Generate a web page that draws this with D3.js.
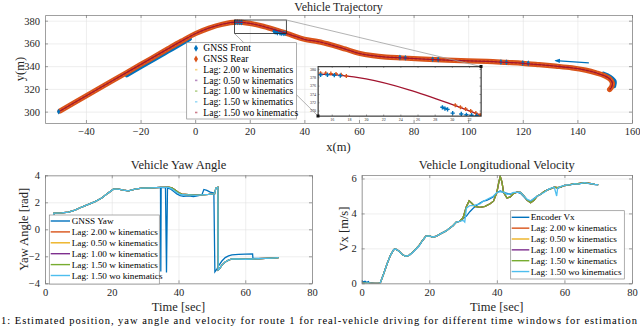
<!DOCTYPE html>
<html>
<head>
<meta charset="utf-8">
<script src="https://cdn.jsdelivr.net/npm/d3@7"></script>
<style>
body { margin: 0; background: #fff; }
svg { display: block; font-family: 'Liberation Serif', serif; }
</style>
</head>
<body>
<svg id="chart" width="640" height="326"></svg>
<script>
// ---- data ----
const lagNames = ["Lag: 2.00 w kinematics", "Lag: 0.50 w kinematics", "Lag: 1.00 w kinematics",
                  "Lag: 1.50 w kinematics", "Lag: 1.50 wo kinematics"];
const lagColors = ["#D95319", "#EDB120", "#7E2F8E", "#77AC30", "#4DBEEE"];
const trajLagColors = ["#EDB120", "#7E2F8E", "#77AC30", "#4DBEEE", "#A2142F"];

// trajectory [x, y] in m
const trackRear = [[-49.5,300.6],[-40,313.8],[-30,327.6],[-20,341.4],[-10,355.2],[-5,362],[0,368.5],[5,373.4],
  [10,376.9],[15,378.7],[20,377.6],[25,375],[30,371.5],[35,367.6],[40,363.6],[45,361.6],[50,358.6],[55,355],
  [60,351.3],[65,349.2],[70,348],[76,347.2],[88,345.7],[100,344.6],[107,344.2],[114,343.3],[120,342.5],
  [126,341.3],[132,340],[138,338.5],[143,336.5],[147,334],[150,331.5],[152,328.5],[152.8,325.3],[152.5,321.5],[151.8,319.5]];
const trackEst = trackRear;
const frontSegA = [[-25,332.2],[-20,339.2],[-15,346.1],[-10,353],[-5,359.9],[-2,364]];
const frontSegB = [[149.5,333.2],[152,330.4],[153.6,326.5],[153.4,322.5]];
const frontPts = [[-50,300],[75,347.6],[77,347.3],[87,346],[89,345.8],[112,343.6],[114,343.4],[120,342.8],[122,342.6],
  [14.7,378.6],[15.5,378.6],[16.3,378.5],[17.0,378.4],[28.9,370.8],[29.2,370.5],[29.5,370.3],[30.1,369.4],
  [31.1,369.2],[31.7,369.0],[32.3,368.9],[32.9,368.8]];
const rearPts = [[14.7,379.0],[15.3,379.0],[15.9,378.9],[16.5,378.8],[17.1,378.6],[17.7,378.3],
  [30.4,371.3],[31.0,370.8],[31.6,370.4],[32.2,369.9],[32.8,369.4],[33.3,369.0]];
const arrowPts = [[144.2,342.9],[132,344.9]];
const zoomX = [14.4, 33.4];
const zoomY = [368.7, 380.6];

// yaw [t, rad]
const yawGnss = [[2.5,0.95],[2.7,1.2],[5,1.22],[7,1.27],[9,1.42],[11,1.65],[13,1.85],[15,2.05],[17,2.32],[19,2.7],
  [20.5,2.97],[22,2.98],[23.5,2.9],[25,2.85],[27,2.98],[29,3.05],[32,3.07],[34.6,3.1],[34.7,-3.12],[34.8,3.1],
  [36.1,3.08],[36.4,-3.2],[36.7,3.05],[37.5,3.0],[38.5,2.82],[39.5,2.62],[40.5,2.5],[41.5,2.45],[43,2.48],
  [44.5,2.42],[46,2.5],[47,2.55],[47.6,2.95],[48.5,2.88],[49.5,2.75],[50.6,2.68],[50.9,-3.15],[51.5,-2.95],
  [52,-2.7],[53,-2.35],[54,-2.1],[55,-1.97],[56,-1.9],[58,-1.86],[60,-1.84],[62.2,-1.82],[62.3,-2.15],
  [64,-2.16],[66,-2.15],[68,-2.12],[70,-2.1]];
const yawKin = [[2.5,1.0],[2.7,1.2],[5,1.22],[7,1.27],[9,1.42],[11,1.65],[13,1.85],[15,2.05],[17,2.32],[19,2.7],
  [20.5,2.97],[22,2.98],[23.5,2.9],[25,2.85],[27,2.98],[29,3.05],[32,3.07],[34.6,3.1],[37,3.13],[38,3.07],
  [39,2.9],[40,2.72],[41,2.6],[43,2.56],[45,2.53],[47,2.55],[49,2.58],[50.8,2.62],[51.2,3.05],[51.8,3.12],
  [51.9,-3.0],[52.3,-2.92],[53,-2.65],[54,-2.42],[55,-2.28],[56,-2.2],[58,-2.2],[60,-2.22],[62,-2.2],
  [64,-2.18],[66,-2.16],[68,-2.13],[70,-2.1]];
const yawEst = [[2.5,1.0],[2.7,1.2],[5,1.22],[7,1.27],[9,1.42],[11,1.65],[13,1.85],[15,2.05],[17,2.32],[19,2.7],
  [20.5,2.97],[22,2.98],[23.5,2.9],[25,2.85],[27,2.98],[29,3.05],[32,3.07],[34.6,3.1],[37,3.1],[38,3.0],
  [39,2.82],[40,2.65],[41,2.56],[43,2.55],[45,2.52],[47,2.55],[49,2.58],[50.8,2.62],[51.2,3.05],[51.8,3.12],
  [51.9,-3.0],[52.3,-2.92],[53,-2.65],[54,-2.42],[55,-2.28],[56,-2.2],[58,-2.2],[60,-2.22],[62,-2.2],
  [64,-2.18],[66,-2.16],[68,-2.13],[70,-2.1]];

// longitudinal velocity [t, m/s]
const velEnc = [[0,0.15],[0.5,0.08],[1,0.12],[1.5,0.05],[2,0.1],[2.3,0.0],[3,0.02],[4,0.0],[5,0.0],[5.5,0.02],
  [6.5,0.55],[7.5,1.1],[8.5,1.6],[9.5,1.93],[10,1.96],[11,1.85],[12,1.65],[13,1.55],[14,1.6],[15,1.75],
  [16,1.95],[17,2.15],[18,2.45],[19,2.7],[20,2.72],[21,2.65],[22,2.68],[23,2.8],[24,2.9],[25,3.0],[26,3.15],
  [27,3.3],[28,3.5],[29,3.55],[30,3.7],[31,3.85],[32,4.1],[33,4.3],[34,4.45],[35,4.6],[36,4.7],[37,4.75],
  [38,4.85],[39,4.95],[40,5.2],[41,5.28],[42,5.2],[43,5.15],[44,5.1],[45,5.18],[46,5.22],[47,5.15],[48,4.95],
  [49,4.75],[50,4.7],[51,4.85],[52,5.0],[53,5.1],[54,5.25],[55,5.35],[56,5.42],[57,5.5],[58,5.45],[59,5.5],
  [60,5.6],[61,5.62],[62,5.65],[63,5.7],[64,5.68],[65,5.72],[66,5.75],[67,5.72],[68,5.7],[69,5.65],[70,5.65]];
const velKin = [[0.3,0.02],[2,0.02],[3,0.0],[5,0.0],[5.5,0.02],
  [6.5,0.55],[7.5,1.1],[8.5,1.6],[9.5,1.93],[10,1.96],[11,1.85],[12,1.65],[13,1.55],[14,1.6],[15,1.77],
  [16,1.97],[17,2.17],[18,2.45],[19,2.7],[20,2.72],[21,2.65],[22,2.68],[23,2.8],[24,2.9],[25,3.0],[26,3.15],
  [27,3.3],[28,3.5],[29,3.55],[30,3.75],[31,4.4],[31.8,4.72],[32.5,4.6],[33.5,4.4],[35,4.35],[36.5,4.4],
  [38,4.55],[39,4.7],[40,5.2],[40.6,5.8],[41,6.12],[41.5,5.8],[42,5.2],[43,4.88],[44,4.95],[45,5.15],[46,5.22],
  [47,5.2],[48,5.0],[49,4.75],[50,4.62],[51,4.75],[52,5.0],[53,5.1],[54,5.25],[55,5.35],[56,5.42],[57,5.5],
  [58,5.47],[59,5.52],[60,5.6],[61,5.62],[62,5.66],[63,5.7],[64,5.7],[65,5.73],[66,5.75],[67,5.73],[68,5.7],
  [69,5.66],[70,5.65]];
const velEst = [[0.3,0.0],[2,0.02],[3,0.0],[5,0.0],[5.5,0.02],
  [6.5,0.55],[7.5,1.1],[8.5,1.6],[9.5,1.93],[10,1.96],[11,1.85],[12,1.65],[13,1.55],[14,1.6],[15,1.75],
  [16,1.95],[17,2.15],[18,2.45],[19,2.7],[20,2.72],[21,2.65],[22,2.68],[23,2.8],[24,2.9],[25,3.0],[26,3.15],
  [27,3.3],[28,3.5],[29,3.55],[30,3.6],[30.5,3.5],[31,4.3],[32,4.45],[33,4.45],[34,4.5],[35,4.55],[36,4.7],
  [37,4.8],[38,4.9],[39,5.0],[40,5.2],[41,5.25],[42,5.22],[43,5.1],[44,5.12],[45,5.2],[46,5.2],[47,5.2],
  [48,5.0],[49,4.8],[50,4.72],[51,4.85],[52,5.0],[53,5.1],[54,5.2],[55,5.35],[56,5.45],[57,5.5],[57.7,5.0],
  [58,5.45],[59,5.55],[60,5.6],[61,5.63],[62,5.65],[63,5.7],[64,5.68],[65,5.72],[66,5.76],[67,5.72],[68,5.7],
  [69,5.66],[70,5.64]];

const trajXTicks = d3.range(-40, 161, 20);
const trajYTicks = d3.range(300, 381, 20);
const insetXTicks = d3.range(16, 33, 2);
const insetYTicks = d3.range(370, 381, 2);
const timeTicks = d3.range(0, 81, 20);
const yawTicks = d3.range(-4, 5, 2);
const velTicks = d3.range(0, 7, 2);

// ---- drawing ----
const svg = d3.select("#chart");
const FONT = "'Liberation Serif', 'DejaVu Serif', serif";
const TXT = "#262626";
const fmt = d3.format("d");
let clipN = 0;

function axesFrame(b, xd, yd, xt, yt, grid = true) {
    const x = d3.scaleLinear().domain(xd).range([b.l, b.r]);
    const y = d3.scaleLinear().domain(yd).range([b.b, b.t]);
    const w = b.r - b.l, h = b.b - b.t;
    const g = svg.append("g");
    g.append("rect").attr("x", b.l).attr("y", b.t).attr("width", w).attr("height", h).attr("fill", "#fff");
    if (grid) {
        g.append("g").attr("transform", `translate(0,${b.b})`)
            .call(d3.axisBottom(x).tickValues(xt).tickSize(-h).tickFormat(""))
            .call(a => a.select(".domain").remove())
            .selectAll("line").attr("stroke", "#e3e3e3").attr("stroke-width", 0.6);
        g.append("g").attr("transform", `translate(${b.l},0)`)
            .call(d3.axisLeft(y).tickValues(yt).tickSize(-w).tickFormat(""))
            .call(a => a.select(".domain").remove())
            .selectAll("line").attr("stroke", "#e3e3e3").attr("stroke-width", 0.6);
    }
    const id = "clip" + (clipN++);
    svg.append("clipPath").attr("id", id).append("rect")
        .attr("x", b.l).attr("y", b.t).attr("width", w).attr("height", h);
    const plot = g.append("g").attr("clip-path", `url(#${id})`);
    return { x, y, g, plot, b, xt, yt };
}

function axesBox(ax, fs, tick, pad) {
    const { x, y, g, b } = ax;
    const style = sel => {
        sel.attr("font-family", FONT).attr("font-size", fs);
        sel.select(".domain").attr("stroke", "#777").attr("stroke-width", 0.7);
        sel.selectAll("line").attr("stroke", "#777").attr("stroke-width", 0.7);
        sel.selectAll("text").attr("fill", TXT);
    };
    g.append("g").attr("transform", `translate(0,${b.b})`)
        .call(d3.axisBottom(x).tickValues(ax.xt).tickFormat(fmt).tickSizeInner(-tick).tickSizeOuter(0).tickPadding(pad))
        .call(style);
    g.append("g").attr("transform", `translate(0,${b.t})`)
        .call(d3.axisTop(x).tickValues(ax.xt).tickSizeInner(-tick).tickSizeOuter(0).tickFormat(""))
        .call(style);
    g.append("g").attr("transform", `translate(${b.l},0)`)
        .call(d3.axisLeft(y).tickValues(ax.yt).tickFormat(fmt).tickSizeInner(-tick).tickSizeOuter(0).tickPadding(pad))
        .call(style);
    g.append("g").attr("transform", `translate(${b.r},0)`)
        .call(d3.axisRight(y).tickValues(ax.yt).tickSizeInner(-tick).tickSizeOuter(0).tickFormat(""))
        .call(style);
}

function label(txt, x, y, fs, rot) {
    svg.append("text").attr("x", x).attr("y", y).attr("text-anchor", "middle")
        .attr("font-family", FONT).attr("font-size", fs).attr("fill", TXT)
        .attr("transform", rot ? `rotate(-90,${x},${y})` : null).text(txt);
}

function lineOf(ax, curve) {
    return d3.line().x(d => ax.x(d[0])).y(d => ax.y(d[1])).curve(curve || d3.curveLinear);
}

function legendBox(b, rows, rowY, fs, drawKey, textX) {
    const g = svg.append("g");
    g.append("rect").attr("x", b.l).attr("y", b.t).attr("width", b.r - b.l).attr("height", b.b - b.t)
        .attr("fill", "#fff").attr("stroke", "#8a8a8a").attr("stroke-width", 0.7);
    rows.forEach((r, i) => {
        const cy = rowY(i);
        drawKey(g, r, cy);
        g.append("text").attr("x", textX).attr("y", cy + fs * 0.33).attr("font-family", FONT)
            .attr("font-size", fs).attr("fill", "#000").text(r.label);
    });
}

// ===== Vehicle Trajectory =====
const tr = axesFrame({ l: 45, t: 15, r: 632, b: 123 }, [-55, 160], [290, 385], trajXTicks, trajYTicks);
const trLine = lineOf(tr, d3.curveCatmullRom);
[frontSegA, frontSegB].forEach(s => tr.plot.append("path").attr("d", trLine(s))
    .attr("fill", "none").attr("stroke", "#0072BD").attr("stroke-width", 4.5).attr("stroke-linecap", "round"));
tr.plot.append("path").attr("d", trLine(trackRear)).attr("fill", "none")
    .attr("stroke", "#D95319").attr("stroke-width", 5.2).attr("stroke-linecap", "round").attr("stroke-linejoin", "round");
tr.plot.append("path").attr("d", trLine(trackRear)).attr("fill", "none")
    .attr("stroke", "#F07A3A").attr("stroke-width", 2.2).attr("stroke-dasharray", "1.5,2.5").attr("opacity", 0.8);
tr.plot.selectAll(".fp").data(frontPts).join("path")
    .attr("transform", d => `translate(${tr.x(d[0])},${tr.y(d[1])})`)
    .attr("d", d3.symbol(d3.symbolDiamond, 10)).attr("fill", "#0072BD");
tr.plot.append("path").attr("d", trLine(trackEst)).attr("fill", "none")
    .attr("stroke", "#A2142F").attr("stroke-width", 1.3);
svg.append("defs").append("marker").attr("id", "arrowHead").attr("viewBox", "0 0 10 10")
    .attr("refX", 8).attr("refY", 5).attr("markerWidth", 5).attr("markerHeight", 5).attr("orient", "auto")
    .append("path").attr("d", "M0,1 L10,5 L0,9 Z").attr("fill", "#0072BD");
tr.plot.append("path").attr("d", lineOf(tr)(arrowPts)).attr("fill", "none").attr("stroke", "#0072BD")
    .attr("stroke-width", 1.1).attr("marker-end", "url(#arrowHead)");
axesBox(tr, 10.5, 3, 5);

// zoom rectangle and connectors
const zx0 = tr.x(zoomX[0]), zx1 = tr.x(zoomX[1]), zy0 = tr.y(zoomY[1]), zy1 = tr.y(zoomY[0]);
svg.append("rect").attr("x", zx0).attr("y", zy0).attr("width", zx1 - zx0).attr("height", zy1 - zy0)
    .attr("fill", "none").attr("stroke", "#222").attr("stroke-width", 0.8);

const insetBox = { l: 318, t: 66.5, r: 481, b: 116 };
svg.append("line").attr("x1", zx1).attr("y1", zy0).attr("x2", insetBox.r).attr("y2", insetBox.t)
    .attr("stroke", "#a0a0a0").attr("stroke-width", 0.8);
svg.append("line").attr("x1", zx0).attr("y1", zy1).attr("x2", insetBox.l).attr("y2", insetBox.b)
    .attr("stroke", "#a0a0a0").attr("stroke-width", 0.8);

// inset
const ins = axesFrame(insetBox, zoomX, zoomY, insetXTicks, insetYTicks, false);
ins.plot.append("path").attr("d", lineOf(ins, d3.curveCatmullRom)(trackEst)).attr("fill", "none")
    .attr("stroke", "#A2142F").attr("stroke-width", 1.3);
ins.plot.selectAll(".rp").data(rearPts).join("path")
    .attr("transform", d => `translate(${ins.x(d[0])},${ins.y(d[1])})`)
    .attr("d", d3.symbol(d3.symbolCross, 9)).attr("fill", "#D95319");
ins.plot.selectAll(".fp").data(frontPts).join("path")
    .attr("transform", d => `translate(${ins.x(d[0])},${ins.y(d[1])})`)
    .attr("d", d3.symbol(d3.symbolCross, 10)).attr("fill", "#0072BD");
axesBox(ins, 4, 1.5, 2);
ins.g.append("rect").attr("x", insetBox.l).attr("y", insetBox.t).attr("width", insetBox.r - insetBox.l)
    .attr("height", insetBox.b - insetBox.t).attr("fill", "none").attr("stroke", "#222").attr("stroke-width", 0.8);
[[insetBox.r, insetBox.t], [insetBox.l, insetBox.b]].forEach(p =>
    svg.append("rect").attr("x", p[0] - 1.5).attr("y", p[1] - 1.5).attr("width", 3).attr("height", 3).attr("fill", "#111"));

// trajectory legend
const trRows = [{ label: "GNSS Front", c: "#0072BD", big: true }, { label: "GNSS Rear", c: "#D95319", big: true }]
    .concat(lagNames.map((n, i) => ({ label: n, c: trajLagColors[i] })));
legendBox({ l: 186.7, t: 42.7, r: 296.5, b: 119 }, trRows, i => 48.3 + i * 10.7, 9.6, (g, r, cy) => {
    if (r.big) {
        g.append("path").attr("transform", `translate(196,${cy})`).attr("d", d3.symbol(d3.symbolDiamond, 14)).attr("fill", r.c);
    } else {
        g.append("rect").attr("x", 195).attr("y", cy - 0.8).attr("width", 2.4).attr("height", 1.6).attr("fill", r.c).attr("opacity", 0.55);
    }
}, 203.3);

label("Vehicle Trajectory", 338.5, 11, 12);
label("x(m)", 338.5, 150.5, 12.5);
label("y(m)", 23.5, 69, 12.5, true);

// ===== Vehicle Yaw Angle =====
const ya = axesFrame({ l: 45, t: 175.3, r: 312, b: 283.3 }, [0, 80], [-4, 4], timeTicks, yawTicks);
const yaLine = lineOf(ya);
ya.plot.append("path").attr("d", yaLine(yawGnss)).attr("fill", "none").attr("stroke", "#0072BD").attr("stroke-width", 1.3);
lagColors.slice(0, 4).forEach(c => ya.plot.append("path").attr("d", yaLine(yawKin)).attr("fill", "none")
    .attr("stroke", c).attr("stroke-width", 1.3));
ya.plot.append("path").attr("d", yaLine(yawEst)).attr("fill", "none").attr("stroke", "#4DBEEE").attr("stroke-width", 1.3);
axesBox(ya, 10.5, 3, 5);
const yaRows = [{ label: "GNSS Yaw", c: "#0072BD" }].concat(lagNames.map((n, i) => ({ label: n, c: lagColors[i] })));
legendBox({ l: 49.3, t: 215, r: 159.3, b: 284 }, yaRows, i => 221 + i * 10.9, 9.2, (g, r, cy) => {
    g.append("line").attr("x1", 50.7).attr("x2", 70).attr("y1", cy).attr("y2", cy).attr("stroke", r.c).attr("stroke-width", 1.4);
}, 71.7);
label("Vehicle Yaw Angle", 178.5, 169, 12.5);
label("Time [sec]", 178.5, 310.5, 12.5);
label("Yaw Angle [rad]", 28, 229.3, 12.5, true);

// ===== Vehicle Longitudional Velocity =====
const ve = axesFrame({ l: 361.7, t: 175, r: 632, b: 283.3 }, [0, 80], [0, 6.2], timeTicks, velTicks);
const veLine = lineOf(ve);
ve.plot.append("path").attr("d", veLine(velEnc)).attr("fill", "none").attr("stroke", "#0072BD").attr("stroke-width", 1.3);
lagColors.slice(0, 4).forEach(c => ve.plot.append("path").attr("d", veLine(velKin)).attr("fill", "none")
    .attr("stroke", c).attr("stroke-width", 1.3));
ve.plot.append("path").attr("d", veLine(velEst)).attr("fill", "none").attr("stroke", "#4DBEEE").attr("stroke-width", 1.3);
axesBox(ve, 10.5, 3, 5);
const veRows = [{ label: "Encoder Vx", c: "#0072BD" }].concat(lagNames.map((n, i) => ({ label: n, c: lagColors[i] })));
legendBox({ l: 510.7, t: 210.7, r: 624.3, b: 279 }, veRows, i => 217.3 + i * 10.85, 9.2, (g, r, cy) => {
    g.append("line").attr("x1", 511.7).attr("x2", 529.3).attr("y1", cy).attr("y2", cy).attr("stroke", r.c).attr("stroke-width", 1.4);
}, 530.7);
label("Vehicle Longitudional Velocity", 496.8, 169, 12.5);
label("Time [sec]", 496.8, 310.5, 12.5);
label("Vx [m/s]", 347.5, 229, 12.5, true);

// caption (sits at the very bottom edge of the picture)
svg.append("text").attr("x", 1).attr("y", 323.5).attr("font-family", FONT).attr("font-size", 10.5)
    .attr("fill", "#000").attr("textLength", 636).attr("lengthAdjust", "spacing")
    .text("1: Estimated position, yaw angle and velocity for route 1 for real-vehicle driving for different time windows for estimation");
</script>
</body>
</html>
